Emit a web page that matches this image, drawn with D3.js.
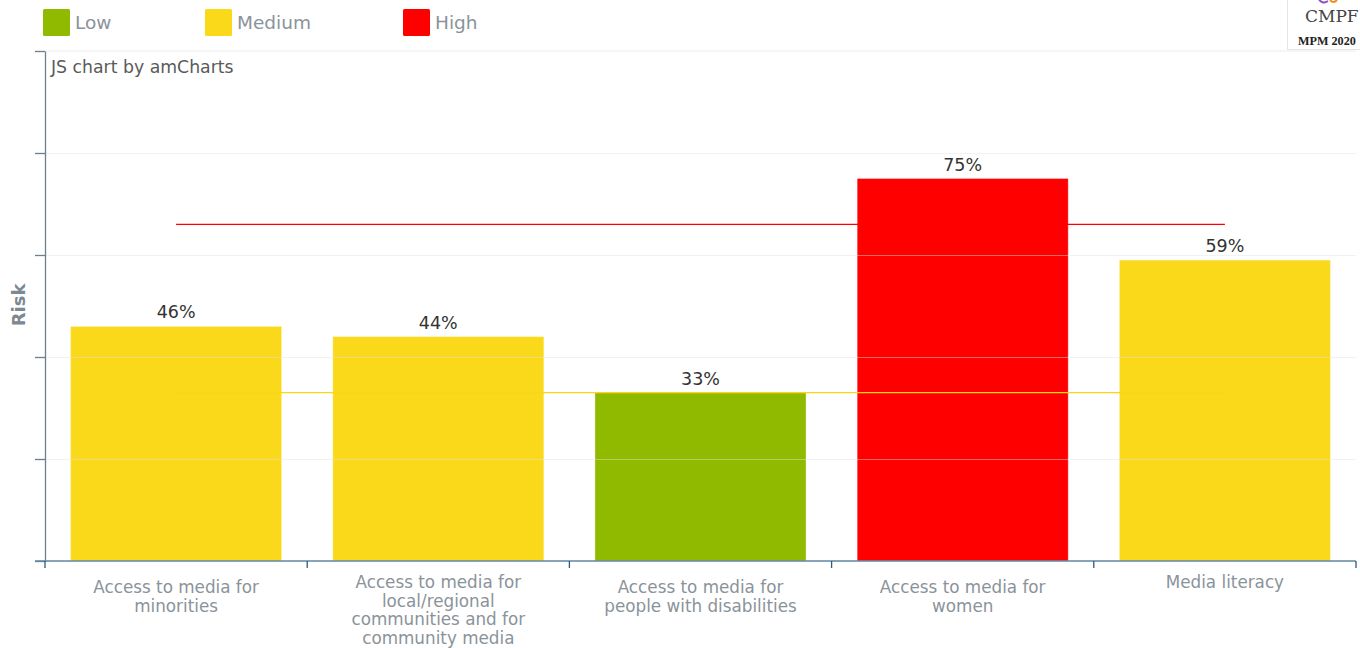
<!DOCTYPE html>
<html>
<head>
<meta charset="utf-8">
<script src="https://cdn.jsdelivr.net/npm/d3@7"></script>
<style>
  html, body { margin: 0; padding: 0; background: #fff; }
  svg { display: block; }
</style>
</head>
<body>
<svg id="chart" width="1360" height="648"></svg>
<script>
// Risk scores per indicator (percent)
const categories = [
  ["Access to media for", "minorities"],
  ["Access to media for", "local/regional", "communities and for", "community media"],
  ["Access to media for", "people with disabilities"],
  ["Access to media for", "women"],
  ["Media literacy"]
];
const riskValues = [46, 44, 33, 75, 59];
const riskLevels = ["Medium", "Medium", "Low", "High", "Medium"];

// Risk bands and the boundaries between them
const levelNames = ["Low", "Medium", "High"];
const levelColors = ["#8fba00", "#fad91a", "#ff0000"];
const thresholds = [33, 66];
const thresholdColors = ["#f9d616", "#ff0000"];
const yTicks = [0, 20, 40, 60, 80, 100];

const svg = d3.select("#chart");
const margin = { left: 45, right: 1356, top: 51, bottom: 561 };
const FONT = "'DejaVu Sans', Verdana, sans-serif";

const keys = categories.map((c, i) => "c" + i);
const x = d3.scaleBand()
  .domain(keys)
  .range([margin.left, margin.right])
  .paddingInner(0.195)
  .paddingOuter(0.0975);
const y = d3.scaleLinear().domain([0, 100]).range([margin.bottom, margin.top]);
const color = d3.scaleOrdinal().domain(levelNames).range(levelColors);

// Legend
const legend = svg.append("g").attr("class", "legend");
const legendX = [43, 205, 403];
levelNames.forEach((name, i) => {
  const g = legend.append("g").attr("transform", `translate(${legendX[i]},9)`);
  g.append("rect").attr("width", 27).attr("height", 27).attr("rx", 1.5)
    .attr("fill", color(name));
  g.append("text").attr("x", 32).attr("y", 20)
    .attr("font-family", FONT)
    .attr("font-size", 18.5).attr("fill", "#8a939b").text(name);
});

// Plot frame top line
svg.append("line")
  .attr("x1", margin.left).attr("x2", margin.right)
  .attr("y1", y(100)).attr("y2", y(100))
  .attr("stroke", "#ececec");

// Bars
svg.append("g").selectAll("rect")
  .data(riskValues)
  .join("rect")
  .attr("x", (d, i) => x(keys[i]))
  .attr("y", d => y(d))
  .attr("width", x.bandwidth())
  .attr("height", d => y(0) - y(d))
  .attr("fill", (d, i) => color(riskLevels[i]))
  .attr("stroke", "#ffffff").attr("stroke-opacity", 0.35).attr("stroke-width", 1);

// Grid lines (semi-transparent, drawn over bars)
svg.append("g").selectAll("line")
  .data(yTicks.filter(t => t > 0 && t < 100))
  .join("line")
  .attr("x1", margin.left).attr("x2", margin.right)
  .attr("y1", d => y(d) + 0.5).attr("y2", d => y(d) + 0.5)
  .attr("stroke", "#e2e2e2").attr("stroke-opacity", 0.45);

// Threshold lines from first to last category centre
const xFirst = x(keys[0]) + x.bandwidth() / 2;
const xLast = x(keys[keys.length - 1]) + x.bandwidth() / 2;
svg.append("g").selectAll("line")
  .data(thresholds)
  .join("line")
  .attr("x1", xFirst).attr("x2", xLast)
  .attr("y1", d => y(d)).attr("y2", d => y(d))
  .attr("stroke", (d, i) => thresholdColors[i]).attr("stroke-width", 1.3);

// Value labels
svg.append("g").selectAll("text")
  .data(riskValues)
  .join("text")
  .attr("x", (d, i) => x(keys[i]) + x.bandwidth() / 2)
  .attr("y", d => y(d) - 8)
  .attr("text-anchor", "middle")
  .attr("font-family", FONT)
  .attr("font-size", 17.5).attr("fill", "#333")
  .text(d => d + "%");

// Y axis (ticks without labels)
const yAxis = svg.append("g")
  .attr("transform", `translate(${margin.left},0)`)
  .call(d3.axisLeft(y).tickValues(yTicks).tickFormat("").tickSize(10).tickSizeOuter(0));
yAxis.select(".domain").attr("stroke", "#6d7f8c").attr("stroke-width", 1.3);
yAxis.selectAll(".tick line").attr("stroke", "#6d7f8c").attr("stroke-width", 1.3);

// X axis with ticks at category boundaries
const xBoundary = d3.scaleLinear().domain([0, keys.length]).range([margin.left, margin.right]);
const xAxis = svg.append("g").attr("transform", `translate(0,${margin.bottom})`);
xAxis.append("line")
  .attr("x1", 35).attr("x2", margin.right)
  .attr("stroke", "#5f87a0").attr("stroke-width", 1.3);
xAxis.selectAll("line.tick")
  .data(d3.range(keys.length + 1))
  .join("line").attr("class", "tick")
  .attr("x1", d => xBoundary(d)).attr("x2", d => xBoundary(d))
  .attr("y1", 0).attr("y2", 7)
  .attr("stroke", "#2f5a7a").attr("stroke-width", 1.3);

// Category labels
const catLabels = svg.append("g").selectAll("text")
  .data(categories)
  .join("text")
  .attr("text-anchor", "middle")
  .attr("font-family", FONT)
  .attr("font-size", 16.8).attr("fill", "#8a939a")
  .attr("transform", (d, i) => `translate(${x(keys[i]) + x.bandwidth() / 2},${d.length === 2 ? 593 : 588})`);
catLabels.selectAll("tspan")
  .data(d => d)
  .join("tspan")
  .attr("x", 0)
  .attr("dy", (d, j) => j === 0 ? 0 : 18.7)
  .text(d => d);

// Y axis title
svg.append("text")
  .attr("transform", "translate(24.5,305) rotate(-90)")
  .attr("text-anchor", "middle")
  .attr("font-family", FONT)
  .attr("font-weight", "bold")
  .attr("font-size", 18).attr("fill", "#7d8891")
  .text("Risk");

// Credit
svg.append("text")
  .attr("x", 51).attr("y", 73)
  .attr("font-family", FONT)
  .attr("font-size", 17.3).attr("fill", "#5a5a5a")
  .text("JS chart by amCharts");

// Logo badge
const logo = svg.append("g");
logo.append("rect").attr("x", 1287.5).attr("y", -5).attr("width", 80).attr("height", 54.5)
  .attr("fill", "#fff").attr("stroke", "#e4e4e4");
logo.append("path").attr("d", "M1318,-2 Q1322,5 1328,1").attr("fill", "none")
  .attr("stroke", "#8b4fc4").attr("stroke-width", 2);
logo.append("path").attr("d", "M1330,0 Q1333,4 1337,0").attr("fill", "none")
  .attr("stroke", "#f08a24").attr("stroke-width", 2);
logo.append("text").attr("x", 1305).attr("y", 21.5)
  .attr("font-family", "'DejaVu Serif', 'Liberation Serif', serif")
  .attr("font-size", 17).attr("fill", "#444").text("CMPF");
logo.append("text").attr("x", 1298).attr("y", 44.5)
  .attr("font-family", "'Liberation Serif', 'DejaVu Serif', serif")
  .attr("font-weight", "bold")
  .attr("font-size", 12.2).attr("fill", "#222").text("MPM 2020");
</script>
</body>
</html>
